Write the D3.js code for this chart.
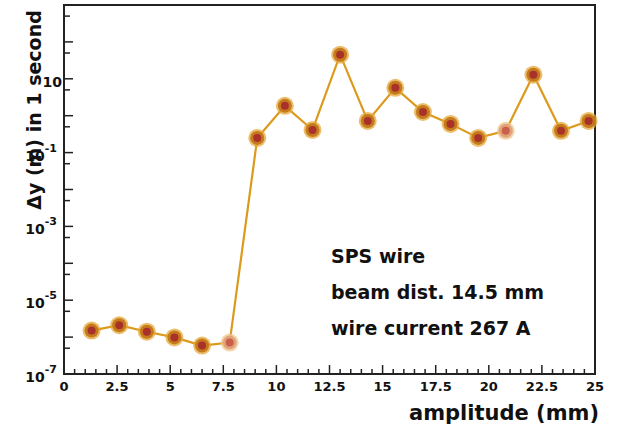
<!DOCTYPE html>
<html>
<head>
<meta charset="utf-8">
<script src="https://cdn.jsdelivr.net/npm/d3@7"></script>
<style>
  body { margin: 0; background: #fff; }
  text { font-family: "DejaVu Sans", sans-serif; font-weight: bold; fill: #111; }
</style>
</head>
<body>
<svg width="617" height="434"></svg>
<script>
// amplitude (mm) and dy after 1 second (m)
var amplitude = [1.3, 2.6, 3.9, 5.2, 6.5, 7.8, 9.1, 10.4, 11.7, 13.0, 14.3, 15.6, 16.9, 18.2, 19.5, 20.8, 22.1, 23.4, 24.7];
var deltaY = [1.5e-6, 2.1e-6, 1.4e-6, 9.8e-7, 5.9e-7, 7.1e-7, 0.25, 1.85, 0.41, 45, 0.72, 5.7, 1.26, 0.6, 0.25, 0.39, 12.9, 0.39, 0.72];
// points drawn paler in the original
var pale = [false, false, false, false, false, true, false, false, false, false, false, false, false, false, false, true, false, false, false];

var xTicks = [0, 2.5, 5, 7.5, 10, 12.5, 15, 17.5, 20, 22.5, 25];
var xTickLabels = ["0", "2.5", "5", "7.5", "10", "12.5", "15", "17.5", "20", "22.5", "25"];
var yLabelTicks = [1e1, 1e-1, 1e-3, 1e-5, 1e-7];
var yLabelExp = ["", "-1", "-3", "-5", "-7"];
var notes = ["SPS wire", "beam dist. 14.5 mm", "wire current 267 A"];

var svg = d3.select("svg");
var plotL = 64, plotR = 595, plotT = 5, plotB = 374;

var x = d3.scaleLinear().domain([0, 25]).range([plotL, plotR]);
var y = d3.scaleLog().domain([1e-7, 1e3]).range([plotB, plotT]);

// x minor + major ticks
var g = svg.append("g");
d3.range(0, 25.01, 0.5).forEach(function(v) {
    var major = Math.abs(v / 2.5 - Math.round(v / 2.5)) < 1e-6;
    g.append("line")
        .attr("x1", x(v)).attr("x2", x(v))
        .attr("y1", plotB).attr("y2", plotB - (major ? 9 : 5))
        .attr("stroke", "#222").attr("stroke-width", 1.5);
});

// y ticks at decades and 5x decades
for (var e = -7; e <= 3; e++) {
    [1, 5].forEach(function(m) {
        var v = m * Math.pow(10, e);
        if (v > 1e3) return;
        g.append("line")
            .attr("x1", plotL).attr("x2", plotL + (m === 1 ? 9 : 6))
            .attr("y1", y(v)).attr("y2", y(v))
            .attr("stroke", "#222").attr("stroke-width", 1.5);
    });
}

// frame
svg.append("rect")
    .attr("x", plotL).attr("y", plotT)
    .attr("width", plotR - plotL).attr("height", plotB - plotT)
    .attr("fill", "none").attr("stroke", "#222").attr("stroke-width", 2);

// x tick labels
svg.selectAll(".xl").data(xTicks).enter().append("text")
    .attr("x", function(d) { return x(d); })
    .attr("y", plotB + 17)
    .attr("text-anchor", "middle")
    .attr("font-size", 13)
    .text(function(d, i) { return xTickLabels[i]; });

// y tick labels
yLabelTicks.forEach(function(v, i) {
    var t = svg.append("text")
        .attr("x", yLabelExp[i] ? 57 : 62).attr("y", y(v) + 8)
        .attr("text-anchor", "end")
        .attr("font-size", 14);
    t.append("tspan").text("10");
    if (yLabelExp[i]) {
        t.append("tspan").attr("dy", -9).attr("font-size", 11).text(yLabelExp[i]);
    }
});

// axis titles
svg.append("text")
    .attr("transform", "translate(41,110) rotate(-90)")
    .attr("text-anchor", "middle")
    .attr("font-size", 19)
    .text("\u0394y (m) in 1 second");

svg.append("text")
    .attr("x", 599).attr("y", 420)
    .attr("text-anchor", "end")
    .attr("font-size", 21)
    .text("amplitude (mm)");

// annotation
svg.selectAll(".note").data(notes).enter().append("text")
    .attr("x", 331)
    .attr("y", function(d, i) { return 263 + i * 36; })
    .attr("font-size", 19)
    .text(function(d) { return d; });

// line
var line = d3.line()
    .x(function(d, i) { return x(amplitude[i]); })
    .y(function(d) { return y(d); });

svg.append("path")
    .datum(deltaY)
    .attr("d", line)
    .attr("fill", "none")
    .attr("stroke", "#dc9a1c")
    .attr("stroke-width", 2.2);

// markers
var pts = svg.selectAll(".pt").data(deltaY).enter().append("g")
    .attr("transform", function(d, i) { return "translate(" + x(amplitude[i]) + "," + y(d) + ")"; });

pts.append("circle")
    .attr("r", 9)
    .attr("fill", function(d, i) { return pale[i] ? "#f0c890" : "#e6a83a"; })
    .attr("opacity", 0.75);
pts.append("circle")
    .attr("r", 7)
    .attr("fill", function(d, i) { return pale[i] ? "#e2a27a" : "#c57a1c"; });
pts.append("circle")
    .attr("r", 4)
    .attr("fill", function(d, i) { return pale[i] ? "#c8604a" : "#a8322a"; });
</script>
</body>
</html>
